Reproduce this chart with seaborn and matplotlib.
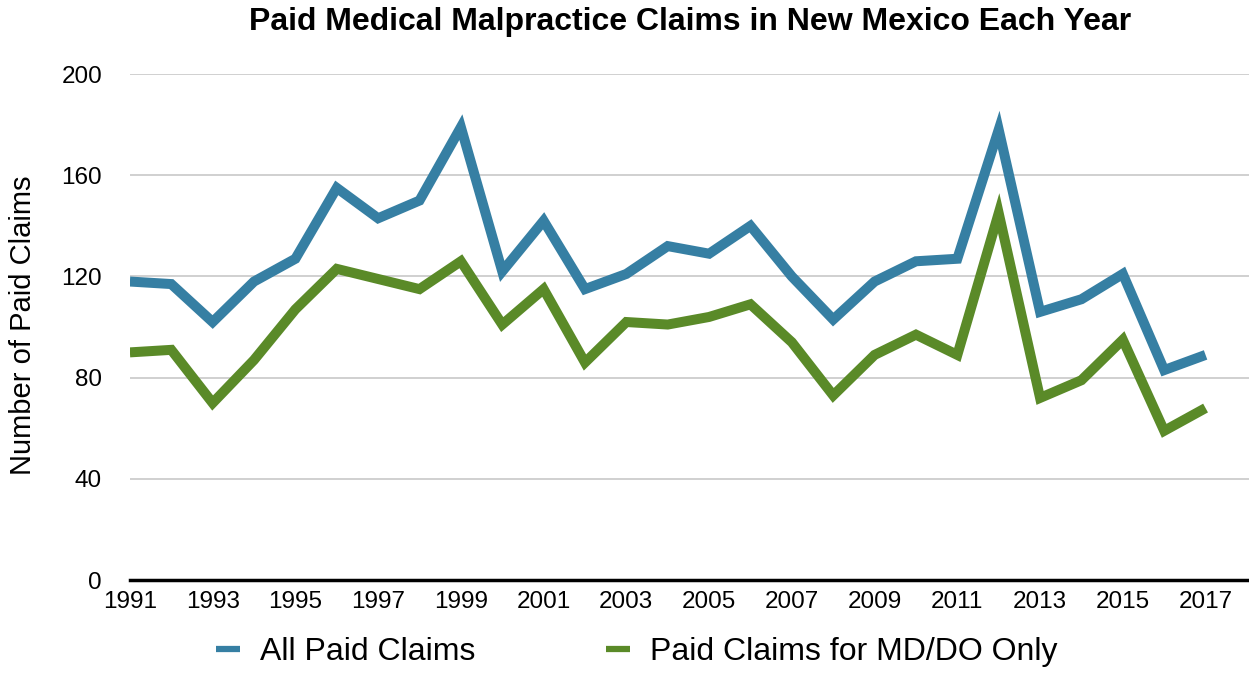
import numpy as np
import pandas as pd
import matplotlib.pyplot as plt
import seaborn as sns
from matplotlib.lines import Line2D

years = list(range(1991, 2018))

all_claims = [118, 117, 102, 118, 127, 155, 143, 150, 179, 122,
              142, 115, 121, 132, 129, 140, 120, 103, 118, 126,
              127, 178, 106, 111, 121, 83, 89]

md_do_claims = [90, 91, 70, 87, 107, 123, 119, 115, 126, 101,
                115, 86, 102, 101, 104, 109, 94, 73, 89, 97,
                89, 145, 72, 79, 95, 59, 68]

series_names = ["All Paid Claims", "Paid Claims for MD/DO Only"]
colors = ["#367fa3", "#5a8a28"]

df = pd.DataFrame({
    "Year": years * 2,
    "Claims": all_claims + md_do_claims,
    "Series": [series_names[0]] * len(years) + [series_names[1]] * len(years),
})

sns.set_theme(style="white")
plt.rcParams['font.family'] = ['Liberation Sans', 'DejaVu Sans']
plt.rcParams['text.color'] = 'black'

fig = plt.figure(figsize=(12.49, 6.73), dpi=100)
ax = fig.add_axes([0.104, 0.138, 0.896, 0.752])

sns.lineplot(data=df, x="Year", y="Claims", hue="Series", palette=colors,
             linewidth=7.2, ax=ax, legend=False)
for line in ax.lines:
    line.set_solid_joinstyle("miter")
    line.set_solid_capstyle("butt")

ax.set_ylim(0, 200)
ax.set_xlim(1991, 2018.05)
ax.set_yticks([0, 40, 80, 120, 160, 200])
ax.set_xticks(list(range(1991, 2018, 2)))
ax.yaxis.grid(True, color="#c8c8c8", linewidth=1.2)
ax.set_axisbelow(True)
for s in ["top", "right", "left"]:
    ax.spines[s].set_visible(False)
ax.spines["bottom"].set_color("black")
ax.spines["bottom"].set_linewidth(2.5)
ax.tick_params(axis="both", length=0, labelsize=17.5, colors="black")
ax.tick_params(axis="y", pad=20)
ax.tick_params(axis="x", pad=8)

ax.set_xlabel("")
ax.set_ylabel("")
fig.text(23 / 1249, 0.516, "Number of Paid Claims", rotation=90,
         ha="center", va="center", fontsize=21, color="black")
fig.text(0.5525, 0.967, "Paid Medical Malpractice Claims in New Mexico Each Year",
         ha="center", va="center", fontsize=23, fontweight="bold", color="black")

handles = [Line2D([0], [0], color=c, linewidth=4.5, solid_capstyle="butt") for c in colors]
fig.legend(handles, series_names, loc="center", ncol=2,
           bbox_to_anchor=(0.51, 0.031), frameon=False, fontsize=23,
           handlelength=0.75, handletextpad=0.62, columnspacing=4.1,
           borderpad=0, borderaxespad=0)

fig.savefig("out.png", dpi=100)
